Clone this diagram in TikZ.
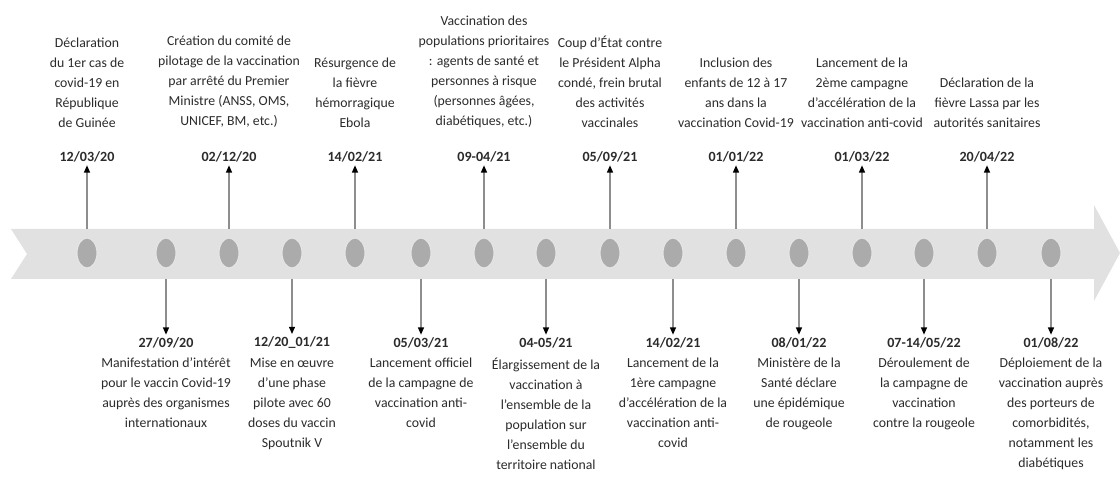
\documentclass[tikz,border=0pt]{standalone}
\usepackage{fontspec}
\setmainfont{Carlito}
\usetikzlibrary{arrows.meta,shapes.geometric}
\definecolor{bandgray}{HTML}{E1E1E1}
\definecolor{dotgray}{HTML}{ABABAB}
\definecolor{linegray}{HTML}{8E8E8E}
\definecolor{textgray}{HTML}{2B2B2B}

\begin{document}
\begin{tikzpicture}[x=0.025cm,y=-0.025cm,
  event/.style={align=center,inner sep=0pt,text=textgray,
    font=\fontsize{9.8}{14.2}\selectfont},
  date/.style={inner sep=2pt,text=textgray,font=\fontsize{10}{12}\selectfont\bfseries},
  jalon/.style={ellipse,draw=white!90!black,line width=0.8pt,fill=dotgray,
    minimum width=0.5cm,minimum height=0.75cm,inner sep=0pt},
  lien/.style={draw=linegray,line width=0.9pt,
    -{Triangle[length=0.18cm,width=0.15cm,color=black]}}]
\useasboundingbox (0,0) rectangle (1120,477);
% bande de la frise
\fill[bandgray] (11,229) -- (1094,229) -- (1094,205) -- (1120,253)
  -- (1094,301) -- (1094,279) -- (11,279) -- (27,254) -- cycle;
\coordinate (haut) at (0,229);
\coordinate (bas) at (0,279);
\coordinate (hd) at (0,157);
\coordinate (bd) at (0,343);
\coordinate (ht) at (0,128);
\coordinate (bt) at (0,358);
% jalons
\foreach \n/\x in {1/87,2/166,3/229,4/292,5/355,6/421,7/484,8/546,
                   9/610,10/673,11/736,12/799,13/862,14/924,15/987,16/1051}
  \node[jalon] (j\n) at (\x,253) {};
% evenements au-dessus
\foreach \j/\d/\t in {
  1/{12/03/20}/{D\'eclaration\\du 1er cas de\\covid-19 en\\R\'epublique\\de Guin\'ee},
  3/{02/12/20}/{Cr\'eation du comit\'e de\\pilotage de la vaccination\\par arr\^et\'e du Premier\\Ministre (ANSS, OMS,\\UNICEF, BM, etc.)},
  5/{14/02/21}/{R\'esurgence de\\la fi\`evre\\h\'emorragique\\Ebola},
  7/{09-04/21}/{Vaccination des\\populations prioritaires\\: agents de sant\'e et\\personnes \`a risque\\(personnes \^ag\'ees,\\diab\'etiques, etc.)},
  9/{05/09/21}/{Coup d'\'Etat contre\\le Pr\'esident Alpha\\cond\'e, frein brutal\\des activit\'es\\vaccinales},
  11/{01/01/22}/{Inclusion des\\enfants de 12 \`a 17\\ans dans la\\vaccination Covid-19},
  13/{01/03/22}/{Lancement de la\\2\`eme campagne\\d'acc\'el\'eration de la\\vaccination anti-covid},
  15/{20/04/22}/{D\'eclaration de  la\\fi\`evre Lassa  par les\\autorit\'es sanitaires}}{
  \node[date] (dh\j) at (j\j |- hd) {\d};
  \node[event,anchor=south] (eh\j) at (j\j |- ht) {\t};
  \draw[lien] (j\j |- haut) -- (dh\j);
}
% evenements au-dessous
\foreach \j/\d/\t in {
  2/{27/09/20}/{Manifestation d'int\'er\^et\\pour le vaccin Covid-19\\aupr\`es des organismes\\internationaux},
  4/{12/20\_01/21}/{Mise en \oe uvre\\d'une phase\\pilote avec 60\\doses du vaccin\\Spoutnik V},
  6/{05/03/21}/{Lancement officiel\\de la campagne de\\vaccination anti-\\covid},
  8/{04-05/21}/{\'Elargissement de la\\vaccination \`a\\l'ensemble de la\\population sur\\l'ensemble du\\territoire national},
  10/{14/02/21}/{Lancement de la\\1\`ere campagne\\d'acc\'el\'eration de la\\vaccination anti-\\covid},
  12/{08/01/22}/{Minist\`ere de la\\Sant\'e d\'eclare\\une \'epid\'emique\\de rougeole},
  14/{07-14/05/22}/{D\'eroulement de\\la campagne de\\vaccination\\contre la rougeole},
  16/{01/08/22}/{D\'eploiement de la\\vaccination aupr\`es\\des porteurs de\\comorbidit\'es,\\notamment les\\diab\'etiques}}{
  \node[date] (db\j) at (j\j |- bd) {\d};
  \node[event,anchor=north] (eb\j) at (j\j |- bt) {\t};
  \draw[lien] (j\j |- bas) -- (db\j);
}
\end{tikzpicture}
\end{document}
